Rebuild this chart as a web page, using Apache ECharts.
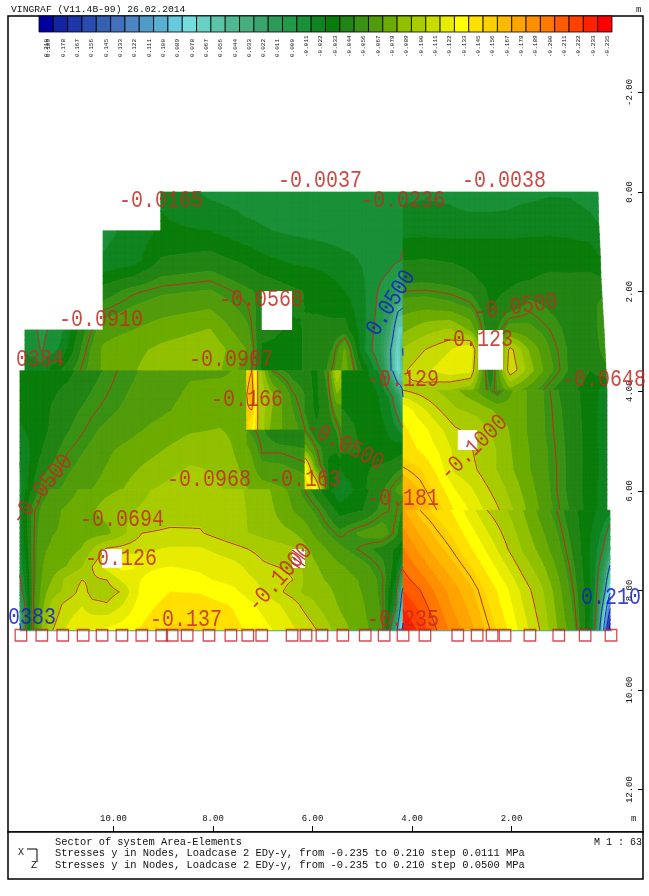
<!DOCTYPE html>
<html><head><meta charset="utf-8">
<style>html,body{margin:0;padding:0;background:#fff}#c{width:649px;height:896px}</style>
<script src="https://cdn.jsdelivr.net/npm/echarts@6/dist/echarts.min.js"></script>
</head><body><div id="c"></div>
<script>
// ---------- legend ----------
const legendLabels=['0.189','0.178','0.167','0.156','0.145','0.133','0.122','0.111','0.100','0.089','0.078','0.067','0.056','0.044','0.033','0.022','0.011','0.000','-0.011','-0.022','-0.033','-0.044','-0.056','-0.067','-0.078','-0.089','-0.100','-0.111','-0.122','-0.133','-0.145','-0.156','-0.167','-0.178','-0.189','-0.200','-0.211','-0.222','-0.233','-0.235'];
const legendColors=['#0000a0','#1224a0','#1e36a8','#2a4cb0','#3660b4','#4270bc','#4c84c4','#509cc8','#5ab0d0','#68c8dc','#74dcdc','#68d0c4','#5cc4a8','#50b890','#48ae80','#3aa46c','#2e9c58','#229a48','#1a9038','#108420','#0a7c0a','#228414','#3a9214','#529c0c','#6cac00','#90c000','#a8cc00','#c8dc00','#e8ec00','#ffff00','#ffe000','#ffd000','#ffb800','#ffa400','#ff9000','#ff7800','#ff5c00','#ff4000','#ff2000','#ff0000'];
const contourLevels=[-200,-150,-100,-50,0,50,100,150];
const xTicks=[2,4,6,8,10];
const yTicks=[-2,0,2,4,6,8,10,12];
// ---------- stress at nodes, 0.001 MPa; node positions in metres ----------
const xL1=[11.78,11.44,11.04,10.63,10.21,9.63,9.05,8.06,7.32,7.02,6.41,5.85,5.59,5.35,5.01,4.64,4.44,4.28,4.18];
const yL1=[0,0.78,1.37,1.99,2.77,3.17,3.59];
const vL1=[
[null,null,null,null,null,null,-20,-8,-5,-5,-4,-3,-3,-4,-5,-8,-9,-10,-10],
[null,null,null,null,-8,-14,-24,-22,-14,-12,-9,-7,-6,-5,-6,-8,-6,-5,-4],
[null,null,null,null,-12,-16,-34,-38,-30,-25,-20,-18,-16,-14,-10,-6,-4,-2,2],
[null,null,null,null,-38,-48,-53,-56,-46,-42,-35,-30,-26,-22,-14,2,8,28,35],
[-8,3,-8,-40,-62,-66,-72,-78,-58,-35,-32,-35,-36,-38,-16,8,32,70,70],
[-10,1,-14,-46,-68,-74,-80,-86,-66,-32,-32,-35,-45,-68,-15,12,48,80,48],
[-20,-18,-35,-52,-68,-76,-84,-85,-60,-30,-32,-35,-52,-72,-35,0,45,85,55]];
const xL2a=[11.88,11.42,10.93,10.33,9.93,9.27,8.46,7.86,7.32];
const yL2a=[3.59,4.38,4.78,5.24,5.98];
const vL2a=[
[-22,-28,-30,-42,-50,-58,-65,-65,-68],
[-25,-30,-40,-50,-55,-62,-70,-72,-70],
[-20,-30,-43,-55,-60,-68,-76,-78,-72],
[-12,-34,-50,-60,-68,-75,-85,-85,-70],
[-8,-50,-58,-68,-75,-88,-96,-90,-78]];
const xL2b=[7.32,7.22,7.10,6.81,6.41,6.15];
const yL2b=[3.59,4.08,4.78];
const vL2b=[
[-140,-150,-100,-50,-40,-38],
[-150,-165,-100,-80,-52,-44],
[-145,-130,-100,-72,-60,-50]];
const xL2c=[7.32,7.02,6.65,6.15];
const yL2c=[4.78,5.24,5.98];
const vL2c=[
[-55,-46,-33,-36],
[-72,-50,-50,-46],
[-78,-72,-68,-62]];
const xL2d=[6.15,5.93,5.69,5.51,5.41];
const yL2d=[3.59,4.32,4.78,5.18,5.48,5.98];
const vL2d=[
[-36,-30,-50,-100,-85],
[-42,-30,-40,-62,-65],
[-50,-35,-35,-45,-55],
[-72,-52,-35,-35,-50],
[-125,-60,-32,-25,-22],
[-145,-130,-35,-15,-12]];
const xL2e=[5.41,5.01,4.74,4.60,4.44,4.28,4.18];
const yL2e=[3.59,4.12,4.72,5.18,5.98];
const vL2e=[
[-30,-28,-15,-3,35,80,60],
[-32,-30,-25,-18,-8,18,50],
[-35,-32,-28,-24,-18,-8,0],
[-35,-33,-30,-28,-26,-28,-30],
[-12,-30,-38,-42,-50,-58,-62]];
const xL3=[11.88,11.76,11.62,11.42,11.22,10.93,10.63,10.43,10.13,9.83,9.43,8.86,8.26,7.60,6.99,6.39,6.15,5.91,5.45,5.01,4.60,4.34,4.18];
const yL3=[5.98,6.39,6.85,7.17,7.53,7.79,8.03,8.29,8.80];
const vL3=[
[-6,-22,-35,-50,-58,-62,-68,-72,-75,-78,-86,-94,-96,-92,-82,-62,-50,-36,-12,-28,-42,-55,-60],
[-8,-30,-48,-58,-64,-68,-72,-76,-82,-86,-90,-94,-96,-92,-84,-66,-60,-52,-28,-32,-48,-52,-42],
[-8,-28,-48,-62,-66,-68,-72,-72,-74,-85,-100,-102,-101,-92,-85,-78,-72,-62,-47,-58,-62,-48,-35],
[-6,-25,-48,-65,-68,-72,-78,-88,-102,-104,-108,-112,-112,-104,-96,-90,-80,-72,-58,-48,-40,-32,-26],
[-3,-20,-48,-66,-72,-78,-88,-100,-115,-125,-120,-122,-120,-115,-102,-98,-85,-78,-68,-60,-48,-28,0],
[2,-15,-48,-68,-78,-92,-100,-98,-100,-112,-122,-128,-124,-118,-108,-100,-86,-80,-72,-65,-52,-22,30],
[8,-12,-48,-72,-84,-92,-105,-96,-95,-101,-125,-133,-132,-125,-110,-95,-85,-85,-74,-66,-52,-12,60],
[25,-5,-48,-75,-92,-105,-110,-103,-101,-110,-128,-137,-138,-132,-118,-105,-96,-88,-76,-68,-53,-8,75],
[60,0,-48,-80,-100,-112,-120,-122,-124,-128,-134,-146,-146,-137,-126,-112,-108,-100,-82,-72,-55,30,110]];
const xR1=[4.18,3.74,3.24,2.83,2.43,2.03,1.63,1.23,0.82,0.42,0.12];
const yR1=[0,0.56,1.16,1.77,2.27,2.77,3.17,3.57,3.98];
const edgeR1=[0.26,0.25,0.22,0.20,0.17,0.14,0.12,0.10,0.08];
const vR1=[
[-10,-10,-10,-8,-8,-9,-9,-10,-10,-8,-7],
[-12,-13,-12,-12,-12,-12,-14,-15,-14,-12,-10],
[-28,-29,-28,-28,-28,-28,-28,-28,-27,-25,-18],
[-42,-42,-40,-35,-30,-31,-33,-35,-35,-36,-35],
[-60,-62,-58,-52,-32,-37,-47,-42,-38,-38,-48],
[-75,-84,-90,-75,-33,-62,-58,-50,-40,-37,-50],
[-90,-100,-110,-122,-30,-105,-75,-55,-42,-36,-48],
[-98,-108,-118,-115,-30,-110,-82,-58,-42,-33,-42],
[-100,-95,-88,-80,-45,-72,-60,-45,-35,-28,-15]];
const xR2=[4.18,3.84,3.50,3.14,2.69,2.29,1.89,1.49,1.09,0.72,0.42,0.08];
const yR2=[3.98,4.38,4.78,5.18,5.58,5.98,6.39];
const vR2=[
[-100,-95,-88,-80,-65,-45,-72,-60,-45,-35,-28,-15],
[-130,-115,-102,-90,-85,-75,-72,-60,-47,-36,-28,-15],
[-135,-128,-115,-102,-95,-85,-72,-60,-48,-37,-28,-14],
[-138,-132,-122,-108,-98,-88,-73,-62,-49,-38,-28,-15],
[-152,-145,-130,-108,-100,-88,-75,-62,-50,-38,-28,-16],
[-165,-155,-140,-122,-108,-95,-80,-65,-50,-38,-27,-15],
[-175,-165,-150,-132,-115,-102,-85,-68,-52,-40,-27,-16]];
const xR3=[4.18,3.84,3.50,3.20,2.83,2.49,2.13,1.79,1.43,1.09,0.76,0.48,0.30,0.16,0.02];
const yR3=[6.39,7.19,7.99,8.80];
const vR3=[
[-168,-150,-140,-132,-115,-100,-90,-78,-63,-50,-35,-28,-22,-18,-15],
[-190,-175,-160,-150,-135,-120,-103,-88,-74,-60,-42,-25,-12,0,25],
[-210,-200,-185,-172,-158,-141,-125,-108,-92,-72,-50,-28,-5,30,90],
[-235,-218,-200,-185,-170,-153,-135,-117,-100,-78,-58,-28,5,90,210]];
const panels=[[xL1,yL1,vL1],[xL2a,yL2a,vL2a],[xL2b,yL2b,vL2b],[xL2c,yL2c,vL2c],[xL2d,yL2d,vL2d],[xL2e,yL2e,vL2e],[xL3,yL3,vL3],[xR1,yR1,vR1,edgeR1],[xR2,yR2,vR2],[xR3,yR3,vR3]];
// openings in the plate: x0,y0,x1,y1 in metres, last = hatched
const holes=[[7.02,1.99,6.41,2.77,0],[2.67,2.77,2.17,3.57,0],[3.08,4.78,2.69,5.18,0],[10.23,7.17,9.83,7.55,0],[6.41,7.17,6.15,7.55,1]];
// nodal supports along the bottom edge (x in metres)
const supportX=[11.86,11.44,11.02,10.61,10.23,9.83,9.43,9.03,8.82,8.52,8.08,7.64,7.30,7.02,6.41,6.13,5.81,5.39,4.94,4.56,4.18,3.74,3.08,2.69,2.39,2.13,1.63,1.05,0.52,0.0];
const supportY=8.90;
const edgeLineX=[11.88,-0.02];
const edgeLineY=8.81;

// ---------- contour geometry derived from the nodal values ----------
const bandOf=v=>Math.max(0,Math.min(39,Math.floor((200-v)/11.1)));
function clipAt(poly,lim,keepAbove){
  const out=[];
  for(let i=0;i<poly.length;i++){
    const a=poly[i],b=poly[(i+1)%poly.length];
    const ia=keepAbove?a[2]>=lim:a[2]<=lim, ib=keepAbove?b[2]>=lim:b[2]<=lim;
    if(ia)out.push(a);
    if(ia!==ib){const t=(lim-a[2])/(b[2]-a[2]);out.push([a[0]+t*(b[0]-a[0]),a[1]+t*(b[1]-a[1]),lim]);}
  }
  return out;
}
const SUB=4; // each element face is shaded bilinearly in SUB x SUB facets
function buildPanel(p){
  const [xs,ys,vs,edge]=p, bands={}, segs=[];
  const node=(r,c)=>{const v=vs[r][c];if(v==null)return null;
    const x=(edge&&c===xs.length-1)?edge[r]:xs[c];return [x,ys[r],v];};
  const tri=t=>{
    const vv=t.map(q=>q[2]);const hi=Math.max(...vv),lo=Math.min(...vv);
    for(let k=bandOf(hi);k<=bandOf(lo);k++){
      const up=k===0?1e9:200-11.1*k, dn=k===39?-1e9:200-11.1*(k+1);
      let poly=clipAt(t,up,false); if(poly.length)poly=clipAt(poly,dn,true);
      if(poly.length>2)(bands[k]=bands[k]||[]).push(poly.map(q=>[q[0],q[1]]));
    }
    contourLevels.forEach(L=>{
      const lv=L+0.01,pts=[];
      for(let i=0;i<3;i++){const a=t[i],b=t[(i+1)%3];
        if((a[2]-lv)*(b[2]-lv)<0){const f=(lv-a[2])/(b[2]-a[2]);pts.push([a[0]+f*(b[0]-a[0]),a[1]+f*(b[1]-a[1])]);}}
      if(pts.length===2)segs.push({L,a:pts[0],b:pts[1]});
    });
  };
  for(let r=0;r<ys.length-1;r++)for(let c=0;c<xs.length-1;c++){
    const a=node(r,c),b=node(r,c+1),d=node(r+1,c),e=node(r+1,c+1);
    if(!a||!b||!d||!e)continue;
    const at=(u,w)=>[0,1,2].map(i=>(1-w)*((1-u)*a[i]+u*b[i])+w*((1-u)*d[i]+u*e[i]));
    for(let i=0;i<SUB;i++)for(let j=0;j<SUB;j++){
      const p00=at(j/SUB,i/SUB),p10=at((j+1)/SUB,i/SUB),p01=at(j/SUB,(i+1)/SUB),p11=at((j+1)/SUB,(i+1)/SUB);
      tri([p00,p10,p11]);tri([p00,p11,p01]);
    }
  }
  return {bands:Object.keys(bands).map(k=>({k:+k,polys:bands[k]})).sort((a,b)=>a.k-b.k),segs};
}
const built=panels.map(buildPanel);

const RED='#c22a22', BLUE='#1420c8', MONO='"Liberation Mono","DejaVu Sans Mono",monospace';

// ---------- annotations (pixel layout) ----------
const redLabels=[
['-0.0165',161,201,0],['-0.0037',320,181,0],['-0.0236',403,201,0],['-0.0038',504,181,0],
['-0.0560',261,300,0],['-0.0910',101,320,0],['0384',40,360,0],['-0.0907',231,360,0],
['-0.166',247,400,0],['-0.123',477,340,0],['-0.129',403,380,0],['-0.0648',604,380,0],
['-0.0968',209,480,0],['-0.163',305,480,0],['-0.181',403,499,0],['-0.0694',122,520,0],
['-0.126',121,559,0],['-0.137',186,620,0],['-0.235',403,620,0],
['-0.0500',516,307,8],['-0.0500',345,445,-27],['-0.0500',42,490,51],['-0.1000',474,448,44],['-0.1000',280,578,48]];
const blueLabels=[['0383',32,618,0],['0.210',611,598,0],['0.0500',391,303,58]];
const smallText=[
['VINGRAF (V11.4B-99) 26.02.2014',11,9,9.7],
['Sector of system Area-Elements',55,842,10.4],
['Stresses y in Nodes, Loadcase 2 EDy-y, from -0.235 to 0.210 step 0.0111 MPa',55,853.5,10.45],
['Stresses y in Nodes, Loadcase 2 EDy-y, from -0.235 to 0.210 step 0.0500 MPa',55,865,10.45],
['M 1 : 63',594,842,10],['X',18,852,10],['Z',31,865,10],['m',636,10,9],['m',631,819,9]];
const graphics=[];
function lab(l,col){return {type:'text',z:50,silent:true,x:l[1],y:l[2],rotation:l[3]*Math.PI/180,scaleY:1.22,
  style:{text:l[0],font:'20px '+MONO,fill:col,opacity:0.85,align:'center',verticalAlign:'middle'}};}
redLabels.forEach(l=>graphics.push(lab(l,RED)));
blueLabels.forEach(l=>graphics.push(lab(l,BLUE)));
smallText.forEach(t=>graphics.push({type:'text',z:50,silent:true,x:t[1],y:t[2],
  style:{text:t[0],font:t[3]+'px '+MONO,fill:'#111',align:'left',verticalAlign:'middle'}}));
graphics.push({type:'text',z:50,silent:true,x:46,y:57,rotation:Math.PI/2,style:{text:'0.210',font:'6px '+MONO,fill:'#111',align:'left',verticalAlign:'middle'}});
graphics.push({type:'rect',z:40,silent:true,shape:{x:8,y:832,width:635,height:47},style:{fill:'#fff',stroke:'#000',lineWidth:1.5}});
graphics.push({type:'polyline',z:50,silent:true,shape:{points:[[27,849],[37,849],[37,862]]},style:{stroke:'#000',lineWidth:1,fill:'none'}});

const option={
  animation:false,backgroundColor:'#fff',
  graphic:graphics,
  grid:[
    {left:8,top:16,width:635,height:816,show:true,borderColor:'#000',borderWidth:1.5,backgroundColor:'#fff'},
    {left:39,top:16,width:573,height:16,show:false}
  ],
  xAxis:[
    {gridIndex:0,type:'value',inverse:true,min:-0.643,max:12.12,position:'bottom',splitLine:{show:false},axisLine:{show:false,onZero:false},
     axisTick:{show:true,inside:true,length:6,customValues:xTicks,lineStyle:{color:'#000',width:1}},
     axisLabel:{show:true,inside:true,margin:9,customValues:xTicks,formatter:v=>v.toFixed(2),fontFamily:'Liberation Mono',fontSize:9,color:'#111'}},
    {gridIndex:1,type:'value',min:0,max:40,show:false}
  ],
  yAxis:[
    {gridIndex:0,type:'value',inverse:true,min:-3.534,max:12.851,position:'right',splitLine:{show:false},axisLine:{show:false,onZero:false},
     axisTick:{show:true,inside:true,length:5,customValues:yTicks,lineStyle:{color:'#000',width:1}},
     axisLabel:{show:true,inside:true,margin:9,rotate:90,customValues:yTicks,formatter:v=>v.toFixed(2),fontFamily:'Liberation Mono',fontSize:9,color:'#111'}},
    {gridIndex:1,type:'value',min:0,max:1,show:false}
  ],
  series:[
    {type:'custom',name:'stress bands',xAxisIndex:0,yAxisIndex:0,silent:true,z:2,clip:false,
     data:built.map((b,i)=>[i]),encode:{x:[],y:[]},
     renderItem:(params,api)=>({type:'group',children:built[api.value(0)].bands.map(b=>{
       const c=legendColors[b.k];
       const d=b.polys.map(poly=>poly.map((q,i)=>{const p=api.coord(q);return (i?'L':'M')+p[0].toFixed(2)+' '+p[1].toFixed(2);}).join('')+'Z').join('');
       return {type:'path',shape:{pathData:d},style:{fill:c,stroke:c,lineWidth:0.7}};
     })})},
    {type:'custom',name:'contours',xAxisIndex:0,yAxisIndex:0,silent:true,z:3,clip:false,
     data:built.map((b,i)=>[i]),encode:{x:[],y:[]},
     renderItem:(params,api)=>({type:'group',children:[['r',s=>s.L<=0,RED],['b',s=>s.L>0,BLUE]].map(g=>{
       const d=built[api.value(0)].segs.filter(g[1]).map(s=>{const p=api.coord(s.a),q=api.coord(s.b);
         return 'M'+p[0].toFixed(2)+' '+p[1].toFixed(2)+'L'+q[0].toFixed(2)+' '+q[1].toFixed(2);}).join('');
       return {type:'path',shape:{pathData:d||'M0 0'},style:{fill:'none',stroke:g[2],lineWidth:1}};
     })})},
    {type:'custom',name:'openings',xAxisIndex:0,yAxisIndex:0,silent:true,z:4,clip:false,
     data:holes,encode:{x:[],y:[]},
     renderItem:(params,api)=>{
       const p=api.coord([api.value(0),api.value(1)]),q=api.coord([api.value(2),api.value(3)]);
       const kids=[{type:'rect',shape:{x:p[0],y:p[1],width:q[0]-p[0],height:q[1]-p[1]},style:{fill:'#fff'}}];
       if(api.value(4)){
         const w=q[0]-p[0],h=q[1]-p[1];
         [[0,0.05,1,0.55],[0,0.4,1,0.9],[0,0.75,0.6,1]].forEach(d=>kids.push({type:'line',
           shape:{x1:p[0]+d[0]*w,y1:p[1]+d[1]*h,x2:p[0]+d[2]*w,y2:p[1]+d[3]*h},style:{stroke:RED,lineWidth:1.2}}));
       }
       return {type:'group',children:kids};
     }},
    {type:'line',name:'edge',xAxisIndex:0,yAxisIndex:0,silent:true,z:5,symbol:'none',
     data:edgeLineX.map(x=>[x,edgeLineY]),lineStyle:{color:'#3aa0a8',width:1.2}},
    {type:'scatter',name:'supports',xAxisIndex:0,yAxisIndex:0,silent:true,z:6,symbol:'rect',symbolSize:11.5,
     data:supportX.map(x=>[x,supportY]),itemStyle:{color:'rgba(0,0,0,0)',borderColor:'#cc1f2a',borderWidth:1.3}},
    {type:'custom',name:'legend',xAxisIndex:1,yAxisIndex:1,silent:true,z:7,clip:false,
     data:legendLabels.map((l,i)=>[i]),encode:{x:[],y:[]},
     renderItem:(params,api)=>{
       const i=api.value(0),a=api.coord([i,1]),b=api.coord([i+1,0]);
       return {type:'group',children:[
         {type:'rect',shape:{x:a[0],y:a[1],width:b[0]-a[0],height:b[1]-a[1]},style:{fill:legendColors[i],stroke:'#000',lineWidth:0.8}},
         {type:'text',x:a[0]+9.7,y:57,rotation:Math.PI/2,style:{text:legendLabels[i],font:'6px '+MONO,fill:'#111',align:'left',verticalAlign:'middle'}}
       ]};
     }}
  ]
};
const chart=echarts.init(document.getElementById('c'),null,{renderer:'canvas',width:649,height:896});
chart.setOption(option);
</script></body></html>
